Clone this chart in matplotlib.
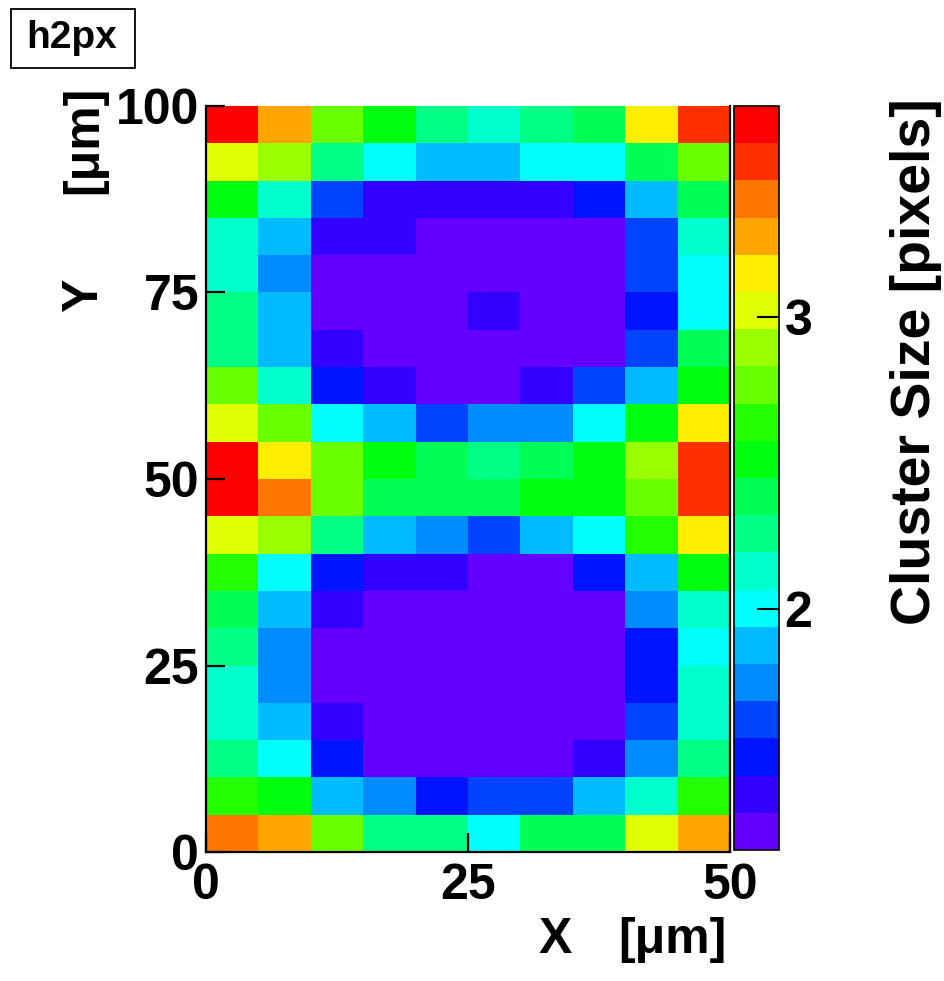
import colorsys

import matplotlib
matplotlib.use("Agg")
import matplotlib.pyplot as plt
import numpy as np
from matplotlib.colors import BoundaryNorm, ListedColormap
from matplotlib.patches import Rectangle

plt.rcParams["font.family"] = ["Liberation Sans", "DejaVu Sans"]
plt.rcParams["font.weight"] = "bold"

# bin edges of the 2D histogram (um)
x_edges = np.linspace(0, 50, 11)
y_edges = np.linspace(0, 100, 21)

# mean cluster size per bin, rows from y=0 upwards
cluster_size = np.array([
    [3.40, 3.27, 2.76, 2.26, 2.26, 2.00, 2.38, 2.38, 3.02, 3.27],
    [2.64, 2.51, 1.88, 1.75, 1.50, 1.62, 1.62, 1.88, 2.13, 2.64],
    [2.26, 2.00, 1.50, 1.24, 1.24, 1.24, 1.24, 1.37, 1.75, 2.26],
    [2.13, 1.88, 1.37, 1.24, 1.24, 1.24, 1.24, 1.24, 1.62, 2.13],
    [2.13, 1.75, 1.24, 1.24, 1.24, 1.24, 1.24, 1.24, 1.50, 2.13],
    [2.26, 1.75, 1.24, 1.24, 1.24, 1.24, 1.24, 1.24, 1.50, 2.00],
    [2.38, 1.88, 1.37, 1.24, 1.24, 1.24, 1.24, 1.24, 1.75, 2.13],
    [2.64, 2.00, 1.50, 1.37, 1.37, 1.24, 1.24, 1.50, 1.88, 2.51],
    [3.02, 2.89, 2.26, 1.88, 1.75, 1.62, 1.88, 2.00, 2.64, 3.14],
    [3.65, 3.40, 2.76, 2.38, 2.38, 2.38, 2.51, 2.51, 2.76, 3.52],
    [3.65, 3.14, 2.76, 2.51, 2.38, 2.26, 2.38, 2.51, 2.89, 3.52],
    [3.02, 2.76, 2.00, 1.88, 1.62, 1.75, 1.75, 2.00, 2.51, 3.14],
    [2.76, 2.13, 1.50, 1.37, 1.24, 1.24, 1.37, 1.62, 1.88, 2.51],
    [2.26, 1.88, 1.37, 1.24, 1.24, 1.24, 1.24, 1.24, 1.62, 2.38],
    [2.26, 1.88, 1.24, 1.24, 1.24, 1.37, 1.24, 1.24, 1.50, 2.00],
    [2.13, 1.75, 1.24, 1.24, 1.24, 1.24, 1.24, 1.24, 1.62, 2.00],
    [2.13, 1.88, 1.37, 1.37, 1.24, 1.24, 1.24, 1.24, 1.62, 2.13],
    [2.51, 2.13, 1.62, 1.37, 1.37, 1.37, 1.37, 1.50, 1.88, 2.38],
    [3.02, 2.89, 2.26, 2.00, 1.88, 1.88, 2.00, 2.00, 2.38, 2.76],
    [3.65, 3.27, 2.76, 2.51, 2.26, 2.13, 2.26, 2.38, 3.14, 3.52],
])

z_min, z_max = 1.177, 3.720
n_contours = 20

x_ticks = [0, 25, 50]
y_ticks = [0, 25, 50, 75, 100]
z_ticks = [2, 3]

# old ROOT "pretty" palette: 50 HLS colours from violet to red,
# sampled the way THistPainter picks one colour per contour
palette50 = []
for i in range(50):
    hue = 280.0 - (i + 1) * (280.0 / 50)
    palette50.append(colorsys.hls_to_rgb(hue / 360.0, 0.5, 1.0))
contour_colors = [palette50[int((k + 0.99) * 50 / n_contours)] for k in range(n_contours)]
cmap = ListedColormap(contour_colors)
levels = np.linspace(z_min, z_max, n_contours + 1)
norm = BoundaryNorm(levels, cmap.N)

W, H = 945, 981
fig = plt.figure(figsize=(W / 100, H / 100), dpi=100)


def fx(px):
    return px / W


def fy(py):
    return 1 - py / H


ax = fig.add_axes([fx(206), fy(852), fx(730 - 206), (852 - 106) / H])
mesh = ax.pcolormesh(x_edges, y_edges, cluster_size, cmap=cmap, norm=norm)
ax.set_xlim(0, 50)
ax.set_ylim(0, 100)
ax.set_xticks(x_ticks)
ax.set_yticks(y_ticks)
ax.tick_params(direction="in", length=14, width=1.6, labelsize=36,
               top=False, right=False)
ax.tick_params(axis="x", pad=8)
ax.tick_params(axis="y", pad=5)
for side in ("left", "bottom", "right"):
    ax.spines[side].set_linewidth(1.6)
ax.spines["top"].set_visible(False)

cax = fig.add_axes([fx(734), fy(850), fx(45), (850 - 106) / H])
cb = fig.colorbar(mesh, cax=cax, ticks=z_ticks)
cb.minorticks_off()
cb.ax.tick_params(direction="in", length=16, width=1.5, labelsize=36, pad=4)
cb.outline.set_linewidth(1.2)

# axis titles, aligned to the far end of each axis
fig.text(fx(572), fy(953), "X", ha="right", va="baseline",
         fontsize=36, fontweight="bold")
fig.text(fx(727), fy(953), "[\u03bcm]", ha="right", va="baseline",
         fontsize=36, fontweight="bold")
fig.text(fx(107), fy(312), "Y", ha="right", va="bottom",
         rotation=90, fontsize=36, fontweight="bold")
fig.text(fx(107), fy(86), "[\u03bcm]", ha="right", va="top",
         rotation=90, fontsize=36, fontweight="bold")
fig.text(fx(916), fy(98), "Cluster Size [pixels]", ha="center", va="top",
         rotation=90, fontsize=40, fontweight="bold")

# histogram name box
fig.patches.append(Rectangle((fx(11), fy(68)), fx(124), 59 / H,
                             transform=fig.transFigure, fill=True,
                             facecolor="white", edgecolor="black", lw=1.3))
fig.text(fx(72), fy(38), "h2px", ha="center", va="center",
         fontsize=28, fontweight="bold")

fig.savefig("out.png", dpi=100)
